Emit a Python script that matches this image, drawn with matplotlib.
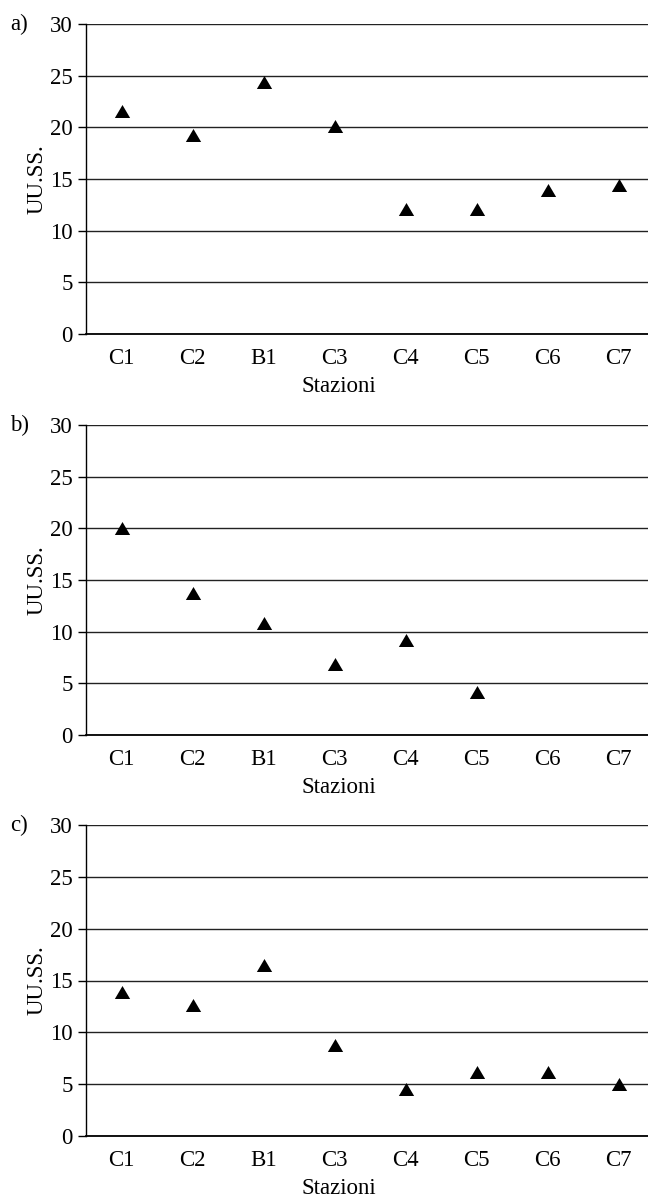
import matplotlib
matplotlib.use("Agg")
import matplotlib.pyplot as plt

plt.rcParams['font.family'] = ['Liberation Serif', 'DejaVu Serif']

stations = ["C1", "C2", "B1", "C3", "C4", "C5", "C6", "C7"]
vals_a = [21.6, 19.3, 24.4, 20.1, 12.1, 12.1, 13.9, 14.4]
vals_b = [20.0, 13.7, 10.8, 6.9, 9.2, 4.2, None, None]
vals_c = [13.9, 12.6, 16.5, 8.8, 4.5, 6.2, 6.2, 5.0]
panel_labels = ["a)", "b)", "c)"]
yticks = [0, 5, 10, 15, 20, 25, 30]

W, H = 648, 1198
fig = plt.figure(figsize=(W / 100, H / 100), dpi=100)

boxes = [(24, 334), (425, 735), (825, 1136)]
left_px = 86
left = left_px / W
tri = [(-1, -0.85), (1, -0.85), (0, 0.85), (-1, -0.85)]
FS = 16.5

for (top, bot), vals, lab in zip(boxes, [vals_a, vals_b, vals_c], panel_labels):
    ax = fig.add_axes([left, 1 - bot / H, 1 - left, (bot - top) / H])
    xs = [i for i, v in enumerate(vals) if v is not None]
    ys = [v for v in vals if v is not None]
    ax.plot(xs, ys, linestyle='none', marker=tri, markersize=11,
            color='black', markeredgewidth=0, zorder=3, clip_on=False)
    ax.set_xlim(-0.5, 7.415)
    ax.set_ylim(0, 30)
    ax.set_yticks(yticks)
    ax.set_xticks(range(len(stations)))
    ax.set_xticklabels(stations)
    ax.yaxis.grid(True, color='#222222', linewidth=1.0)
    ax.set_axisbelow(True)
    for s in ['top', 'right']:
        ax.spines[s].set_visible(False)
    ax.spines['left'].set_linewidth(1.0)
    ax.spines['bottom'].set_linewidth(1.3)
    ax.tick_params(axis='y', length=5.5, width=1.0, pad=4, labelsize=FS)
    ax.tick_params(axis='x', length=0, pad=10, labelsize=FS)
    ax.set_xlabel("Stazioni", fontsize=FS)
    ax.xaxis.set_label_coords((339 - left_px) / (W - left_px), -0.135)
    ax.xaxis.label.set_va('top')
    ax.set_ylabel("UU.SS.", fontsize=FS, labelpad=2)
    ax.text((10 - left_px) / (W - left_px), 1.0, lab, transform=ax.transAxes,
            fontsize=FS, ha='left', va='center')

fig.savefig("out.png", dpi=100)
